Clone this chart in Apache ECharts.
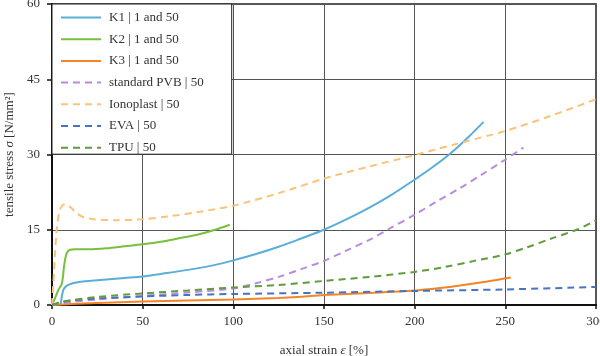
<!DOCTYPE html>
<html><head><meta charset="utf-8">
<script src="https://cdn.jsdelivr.net/npm/echarts@6/dist/echarts.min.js"></script>
<style>html,body{margin:0;padding:0;background:#fff}#c{width:600px;height:356px}</style>
</head><body><div id="c"></div>
<script>
var seriesNames = ['K1 | 1 and 50','K2 | 1 and 50','K3 | 1 and 50','standard PVB | 50','Ionoplast | 50','EVA | 50','TPU | 50'];
var xTicks = [0,50,100,150,200,250,300];
var yTicks = [0,15,30,45,60];

var k1Strain = [4.8,5.2,5.8,6.5,8,11,15,20,30,40,50,60,75,90,100,112,125,137,150,162,175,187,200,210,220,230,238];
var k1Stress = [0,1.2,2.4,3.2,3.8,4.3,4.6,4.8,5.1,5.4,5.7,6.2,7.0,8.0,8.9,10.1,11.6,13.2,15,17,19.4,21.9,25,27.5,30.3,33.6,36.5];

var k2Strain = [0,1.5,3.5,5.3,6,6.6,7.3,8.1,9.9,13,20,30,40,50,60,70,80,90,98];
var k2Stress = [0,1.2,3.0,4.1,5.5,7.6,9.2,10.3,11.0,11.1,11.1,11.3,11.7,12.1,12.6,13.3,14.0,15.0,16];

var k3Strain = [0,10,25,50,75,100,125,137,150,175,200,214,225,240,253];
var k3Stress = [0,0.2,0.4,0.7,0.9,1.1,1.4,1.65,2.0,2.4,2.9,3.4,3.9,4.7,5.5];

var pvbStrain = [0,10,25,50,75,100,112,125,137,150,162,175,187,200,212,225,237,250,260];
var pvbStress = [0,0.6,1.1,1.8,2.5,3.3,4.3,5.6,7.1,8.8,10.8,13,15.4,18,20.6,23.3,26,29,31.4];

var ionoStrain = [0,1,2.6,4.4,7.2,9.9,13.6,17.3,23,35,50,65,80,100,125,150,175,200,225,250,275,300];
var ionoStress = [0,6,15,19,20.1,19.6,18.3,17.5,17.1,16.9,17.1,17.7,18.5,19.8,22.3,25.2,27.6,29.9,32.3,34.7,37.7,41];

var evaStrain = [0,5,10,25,50,75,100,150,200,250,300];
var evaStress = [0,0.6,0.9,1.3,1.7,2.0,2.2,2.45,2.8,3.1,3.6];

var tpuStrain = [0,5,10,25,50,75,100,125,150,175,200,217,233,250,262,275,290,300];
var tpuStress = [0,0.5,0.9,1.6,2.3,2.9,3.5,4.0,4.8,5.6,6.6,7.6,8.8,10.1,11.5,13.2,15.1,16.9];

function zip(a,b){return a.map(function(v,i){return [v,b[i]];});}
var colors = ['#5aaed8','#77bf3f','#f58426','#b88be0','#fbc27a','#4574c4','#5e9c3c'];
var datasets = [zip(k1Strain,k1Stress),zip(k2Strain,k2Stress),zip(k3Strain,k3Stress),zip(pvbStrain,pvbStress),zip(ionoStrain,ionoStress),zip(evaStrain,evaStress),zip(tpuStrain,tpuStress)];

var font = '"Liberation Serif", "Times New Roman", serif';
var series = datasets.map(function(d,i){
  return {
    name: seriesNames[i], type:'line', data:d, symbol:'none', showSymbol:false, smooth:0.3,
    lineStyle:{color:colors[i], width:2, type: i<3 ? 'solid' : [7,5]},
    itemStyle:{color:colors[i]}, z: 3
  };
});

var chart = echarts.init(document.getElementById('c'), null, {renderer:'canvas'});
chart.setOption({
  animation:false,
  textStyle:{fontFamily:font},
  grid:{left:52, right:4, top:4, bottom:51, containLabel:false, outerBoundsMode:'none', show:true, borderColor:'#222', borderWidth:1.5, backgroundColor:'transparent'},
  legend:{
    orient:'vertical', left:52, top:4, data:seriesNames,
    itemWidth:40, itemHeight:14, itemGap:8.7,
    padding:[7,28,0,8],
    itemStyle:{opacity:0},
    backgroundColor:'#fff', borderColor:'#222', borderWidth:1,
    textStyle:{fontFamily:font, fontSize:13, color:'#333', padding:[0,0,0,3]}
  },
  xAxis:{
    type:'value', min:xTicks[0], max:xTicks[xTicks.length-1], interval:50,
    name:'axial strain {i|ε} [%]', nameLocation:'middle', nameGap:39,
    nameTextStyle:{fontFamily:font, fontSize:13, color:'#333', rich:{i:{fontStyle:'italic', fontFamily:font, fontSize:13, color:'#333'}}},
    axisLine:{show:true, lineStyle:{color:'#111', width:2}},
    axisTick:{show:true, length:4, lineStyle:{color:'#111', width:1.5}},
    axisLabel:{fontFamily:font, fontSize:13, color:'#333', margin:10},
    splitLine:{show:true, lineStyle:{color:'#555', width:1}}
  },
  yAxis:{
    type:'value', min:yTicks[0], max:yTicks[yTicks.length-1], interval:15,
    name:'tensile stress {i|σ} [N/mm²]', nameLocation:'middle', nameGap:34,
    nameTextStyle:{fontFamily:font, fontSize:13, color:'#333', rich:{i:{fontStyle:'italic', fontFamily:font, fontSize:13, color:'#333'}}},
    axisLine:{show:true, lineStyle:{color:'#111', width:2}},
    axisTick:{show:true, length:5, lineStyle:{color:'#111', width:1.5}},
    axisLabel:{fontFamily:font, fontSize:13, color:'#333', margin:12},
    splitLine:{show:true, lineStyle:{color:'#555', width:1}}
  },
  series: series
});
</script></body></html>
